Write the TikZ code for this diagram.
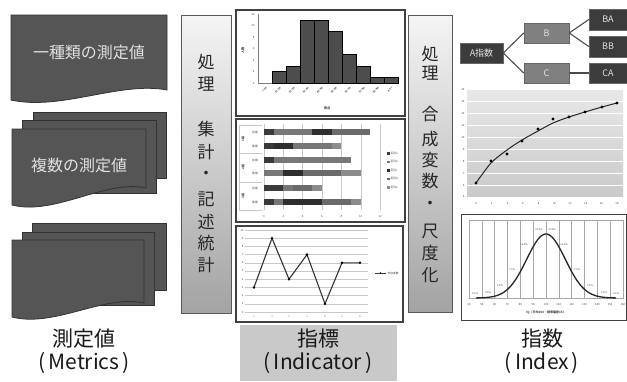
\documentclass[tikz,border=0pt]{standalone}
\usepackage{fontspec}
\setmainfont{Noto Sans CJK JP}
\definecolor{docfill}{HTML}{555555}
\definecolor{docedge}{HTML}{333333}
\definecolor{dkbox}{HTML}{3C3C3C}
\definecolor{mdbox}{HTML}{808080}
\definecolor{boxtxt}{HTML}{E2E2E2}
\definecolor{sa}{HTML}{3A3A3A}
\definecolor{sb}{HTML}{777777}
\definecolor{sc}{HTML}{2E2E2E}
\definecolor{sd}{HTML}{6A6A6A}
\definecolor{se}{HTML}{8C8C8C}
\definecolor{gridc}{HTML}{C8C8C8}
\definecolor{labelbg}{HTML}{C9C9C9}
\definecolor{histbar}{HTML}{4D4D4D}
\newcommand{\docsheet}[5]{%
  \filldraw[docstyle] (#1,#2) -- (#3,#2) -- (#3,#5)
    .. controls ({#3-0.3*(#3-#1)},{#5-9}) and ({#1+0.32*(#3-#1)},{#4+11}) .. (#1,#4) -- cycle;}
\newcommand{\backsheet}[4]{\filldraw[docstyle] (#1,#2) rectangle (#3,#4);}
\begin{document}
\begin{tikzpicture}[x=1pt,y=-1pt,
  docstyle/.style={fill=docfill,draw=docedge,line width=0.8pt},
  doctext/.style={font=\fontsize{16}{16}\selectfont,text=boxtxt,inner sep=0pt},
  procbox/.style={draw=black!65,line width=0.9pt,top color=white!96!black,bottom color=black!36},
  vch/.style={font=\fontsize{17}{17}\selectfont,text=black!85,inner sep=0pt},
  frame/.style={draw=black!75,line width=1.3pt,fill=white},
  tick/.style={font=\fontsize{2.8}{3}\selectfont,inner sep=0.3pt,text=black!70},
  grid/.style={draw=gridc,line width=0.4pt},
  bar/.style={fill=histbar,draw=black,line width=0.4pt},
  tbox/.style={inner sep=0pt,text=boxtxt,font=\fontsize{9}{9}\selectfont,draw=black!60,line width=0.5pt},
  tline/.style={draw=black!70,line width=1.1pt},
  biglabel/.style={font=\fontsize{21}{21}\selectfont,text=black!90,inner sep=0pt}
]
\useasboundingbox (0,0) rectangle (627,381);

% ---------- measured values (documents) ----------
\docsheet{11}{15}{167}{100}{90}
\node[doctext] (d1) at (89,52) {一種類の測定値};

\backsheet{33}{112}{166}{178}
\backsheet{22}{120}{156}{193}
\docsheet{12}{129}{146}{205}{188}
\node[doctext] (d2) at (79,165) {複数の測定値};

\backsheet{32}{223}{166}{290}
\backsheet{22}{232}{154}{305}
\docsheet{12}{240}{144}{317}{303}

% ---------- processing box 1 ----------
\draw[procbox] (181,15) rectangle (231,313);
\foreach \c/\y [count=\i] in {処/62,理/84,集/129,計/152,・/175,記/199,述/222,統/243,計/265}
  \node[vch] (pa\i) at (206,\y) {\c};

% ---------- processing box 2 ----------
\draw[procbox] (408,15) rectangle (452,312);
\foreach \c/\y [count=\i] in {処/54,理/73,合/114,成/139,変/160,数/181,・/205,尺/231,度/253,化/275}
  \node[vch] (pb\i) at (430,\y) {\c};

% ---------- chart 1 : histogram ----------
\draw[frame] (236,10) rectangle (405,116);
\foreach \v in {0,2,...,12} \node[tick,anchor=east] at (255,{83-5.75*\v}) {\v};
\draw[draw=black!50,line width=0.4pt] (257.7,14) -- (257.7,83) -- (397.7,83);
\foreach \k/\v in {1/2,2/3,3/11,4/11,5/9,6/5,7/3,8/1,9/1}
  \filldraw[bar] ({257.7+14*\k},83) rectangle ({271.7+14*\k},{83-5.75*\v});
\foreach \t [count=\k from 0] in {〜10,11-20,21-30,31-40,41-50,51-60,61-70,71-80,81-90,91〜}
  \node[tick,rotate=45,anchor=east,font=\fontsize{2.6}{3}\selectfont\bfseries] at ({266.7+14*\k},87) {\t};
\node[tick,rotate=90,font=\fontsize{3.2}{3}\selectfont\bfseries] (h1) at (243,50) {人数};
\node[tick,font=\fontsize{3.2}{3}\selectfont\bfseries] (h2) at (327,108) {得点};

% ---------- chart 2 : stacked bars ----------
\draw[frame] (236,119) rectangle (405,222);
\foreach \v in {0,2,...,12} {
  \draw[grid] ({264+9.67*\v},124) -- ({264+9.67*\v},210);
  \node[tick] at ({264+9.67*\v},216) {\v};}
\foreach \yy in {125,153,182,210} \draw[grid] (239,\yy) -- (262,\yy);
\draw[grid] (239,125) -- (239,210);
\foreach \g/\yy in {1組/139,2組/167,3組/196} \node[tick,rotate=90,font=\fontsize{3}{3}\selectfont\bfseries] at (243,\yy) {\g};
\foreach \yy in {132,160,188} \node[tick] at (255,\yy) {前期};
\foreach \yy in {146,173,202} \node[tick] at (255,\yy) {後期};
\foreach \yy/\a/\b/\c in {
  132/0/1/sa,132/1/5/sb,132/5/7/sc,132/7/11/sd,
  146/0/1/sa,146/1/3/sc,146/3/7/sb,146/7/8/se,
  160/0/1/sa,160/1/9/sb,
  173/0/2/sb,173/2/4/sc,173/4/8/sd,173/8/10/se,
  188/0/2/sa,188/2/3/sb,188/3/5/sd,188/5/6/se,
  202/0/1/sa,202/1/2/sb,202/2/6/sc,202/6/9/sd,202/9/10/se}
  \fill[\c] ({264+9.67*\a},{\yy-3}) rectangle ({264+9.67*\b},{\yy+3});
\foreach \c/\t [count=\i from 0] in {sa/系列a,sb/系列b,sc/系列c,sd/系列d,se/系列e} {
  \fill[\c] (387,{152+8.5*\i}) rectangle (389.5,{154.5+8.5*\i});
  \node[tick,anchor=west] at (390,{153.2+8.5*\i}) {\t};}

% ---------- chart 3 : line chart ----------
\draw[frame] (236,226) rectangle (403,322);
\foreach \v in {0,...,10} {
  \draw[grid] (245,{312-8.2*\v}) -- (368,{312-8.2*\v});
  \node[tick,anchor=east] at (244,{312-8.2*\v}) {\v};}
\draw[black!80,line width=1.1pt] (254,{312-8.2*3}) -- (272,{312-8.2*9}) -- (289,{312-8.2*4})
  -- (307,{312-8.2*7}) -- (325,{312-8.2*1}) -- (342,{312-8.2*6}) -- (360,{312-8.2*6});
\foreach \xx/\v in {254/3,272/9,289/4,307/7,325/1,342/6,360/6}
  \fill[black] (\xx,{312-8.2*\v}) circle (1.4);
\draw[black!80,line width=0.8pt] (375,273) -- (386,273);
\fill (380.5,273) circle (1);
\node[tick,anchor=west] at (387,273) {参加者数};
\foreach \xx/\t in {254/4/1〜4/7,272/4/8〜4/14,289/4/15〜4/21,307/4/22〜4/28,325/5/1〜5/7,342/5/8〜5/14,360/5/15〜5/21}
  \node[tick,font=\fontsize{2.3}{3}\selectfont] at (\xx,317) {\t};

% ---------- tree ----------
\node[tbox,fill=dkbox,minimum width=43pt,minimum height=20pt] (A) at (481.5,53) {A指数};
\node[tbox,fill=mdbox,minimum width=45pt,minimum height=20pt] (B) at (546.5,33) {B};
\node[tbox,fill=mdbox,minimum width=45pt,minimum height=20pt] (C) at (546.5,73) {C};
\node[tbox,fill=dkbox,minimum width=38pt,minimum height=21pt] (BA) at (608,19.5) {BA};
\node[tbox,fill=dkbox,minimum width=38pt,minimum height=21pt] (BB) at (608,46.5) {BB};
\node[tbox,fill=dkbox,minimum width=38pt,minimum height=20pt] (CA) at (608,73) {CA};
\draw[tline] (A.east) -- (B.west);
\draw[tline] (A.east) -- (C.west);
\draw[tline] (B.east) -- (BA.west);
\draw[tline] (B.east) -- (BB.west);
\draw[tline] (C.east) -- (CA.west);

% ---------- scatter with curve ----------
\shade[top color=black!9,bottom color=black!21] (467,89) rectangle (623,197);
\foreach \k in {0,...,9} {
  \draw[white!85!black!5,line width=0.6pt] (467,{89+12*\k}) -- (623,{89+12*\k});
  \pgfmathtruncatemacro{\lab}{14-\k}
  \node[tick,anchor=east] at (465,{89+12*\k}) {\lab};}
\foreach \k in {0,...,9} {
  \pgfmathtruncatemacro{\lab}{2*\k}
  \node[tick] at ({476+15.67*\k},203) {\lab};}
\draw[black!85,line width=1pt] plot[smooth] coordinates {(476,183) (491,163) (507,150) (522,140) (538,131) (553,123) (569,117) (585,112) (602,107) (617,103)};
\foreach \xx/\yy in {476/183,491/161,507/154,522/141,538/129,553/119,569/117,585/112,602/107,617/103}
  \fill[black] (\xx,\yy) circle (1.6);

% ---------- normal distribution ----------
\draw[frame,line width=1pt] (461,214) rectangle (626,320);
\draw[black!35,line width=0.4pt] (469,220) rectangle (623,298);
\foreach \k in {0,...,12} {
  \draw[black!35,line width=0.35pt] ({469+12.83*\k},220) -- ({469+12.83*\k},298);
  \pgfmathtruncatemacro{\lab}{40+10*\k}
  \node[tick] at ({469+12.83*\k},304) {\lab};}
\draw[black!85,line width=1.3pt] plot[domain=476:616,samples=80,smooth] (\x,{298-64*exp(-((\x-546)^2)/(2*19.25^2))});
\foreach \xx/\yy/\t in {475/294/0.1\%,488/293/0.5\%,500/286/2.4\%,512/270/7.1\%,524/245/16.9\%,539/230/22.4\%,
  552/230/22.4\%,564/245/16.9\%,577/270/7.1\%,590/286/2.4\%,604/293/0.5\%,616/294/0.1\%}
  \node[tick,font=\fontsize{2.5}{3}\selectfont] at (\xx,\yy) {\t};
\node[tick,font=\fontsize{3}{3}\selectfont\bfseries] (nx) at (546,313) {IQ（平均100・標準偏差15）};

% ---------- bottom labels ----------
\fill[labelbg] (240,325) rectangle (397,381);
\node[biglabel] (l1) at (84,339) {測定値};
\node[biglabel] (l2) at (84,363) {(\hspace{3pt}Metrics\hspace{3pt})};
\node[biglabel] (l3) at (318,339) {指標};
\node[biglabel] (l4) at (318,363) {(\hspace{3pt}Indicator\hspace{3pt})};
\node[biglabel] (l5) at (542,339) {指数};
\node[biglabel] (l6) at (542,363) {(\hspace{3pt}Index\hspace{3pt})};
\end{tikzpicture}
\end{document}
